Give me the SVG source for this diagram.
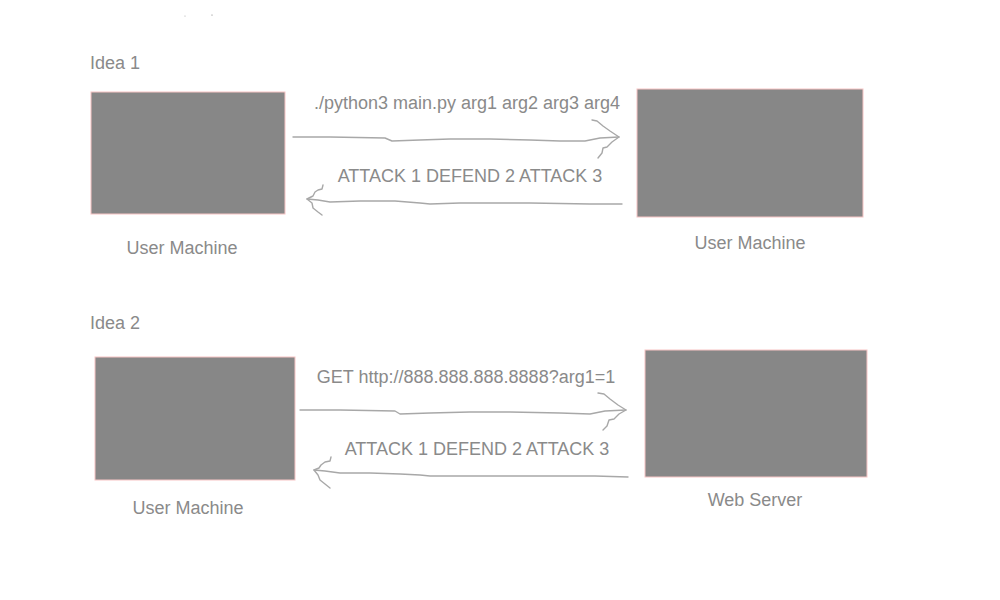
<svg xmlns="http://www.w3.org/2000/svg" width="1000" height="600" viewBox="0 0 1000 600">
<style>
.box{fill:#878787;stroke:#f7c4c4;stroke-width:1}
.t{font-family:"Liberation Sans",Arial,sans-serif;font-size:18px;fill:#8a8a8a}
.w{fill:none;stroke:#a8a8a8;stroke-width:1.4;stroke-linecap:round;stroke-linejoin:round}
</style>
<rect width="1000" height="600" fill="#fff"/>
<circle cx="185" cy="16" r="0.6" fill="#aaa"/>
<circle cx="212" cy="15" r="0.6" fill="#777"/>
<text class="t" x="90" y="69">Idea 1</text>
<text class="t" x="90" y="329">Idea 2</text>
<g id="um1"><rect class="box" x="91" y="92" width="194" height="122"/><text class="t" x="182" y="254" text-anchor="middle">User Machine</text></g>
<g id="um2"><rect class="box" x="637" y="89" width="226" height="128"/><text class="t" x="750" y="249" text-anchor="middle">User Machine</text></g>
<g id="um3"><rect class="box" x="95" y="357" width="200" height="123"/><text class="t" x="188" y="514" text-anchor="middle">User Machine</text></g>
<g id="ws"><rect class="box" x="645" y="350" width="222" height="127"/><text class="t" x="755" y="506" text-anchor="middle">Web Server</text></g>
<g id="connectors">
<path class="w" d="M293,137 L330,137 L385,138 L392,141 L420,140 L450,139 L490,139 L530,140 L560,141 L585,141 L600,138 L619,137"/>
<path class="w" d="M592,120 L597,121 L603,126 L610,131 L619,137 L612,142 L607,147 L603,148 L602,153 L598,158"/>
<text class="t" x="467" y="109" text-anchor="middle">./python3 main.py arg1 arg2 arg3 arg4</text>
<path class="w" d="M622,204 L590,204 L530,203 L460,203 L430,204 L420,203 L395,201 L360,201 L330,202 L318,200 L307,199"/>
<path class="w" d="M323,185 L322,189 L318,190 L315,192 L313,196 L307,199 L312,203 L313,208 L318,212 L322,215"/>
<text class="t" x="470" y="182" text-anchor="middle">ATTACK 1 DEFEND 2 ATTACK 3</text>
<path class="w" d="M300,410 L340,410 L395,411 L400,414 L430,413 L470,412 L510,412 L560,413 L590,414 L605,411 L626,410"/>
<path class="w" d="M598,393 L604,394 L610,399 L618,405 L626,410 L619,414 L614,419 L609,420 L607,426 L603,430"/>
<text class="t" x="466" y="383" text-anchor="middle">GET http://888.888.888.8888?arg1=1</text>
<path class="w" d="M628,477 L595,476 L540,476 L470,476 L430,476 L420,475 L400,474 L370,473 L340,473 L325,471 L314,470"/>
<path class="w" d="M331,457 L330,461 L325,462 L321,465 L319,468 L314,470 L318,475 L320,480 L325,484 L330,488"/>
<text class="t" x="477" y="455" text-anchor="middle">ATTACK 1 DEFEND 2 ATTACK 3</text>
</g>
</svg>
